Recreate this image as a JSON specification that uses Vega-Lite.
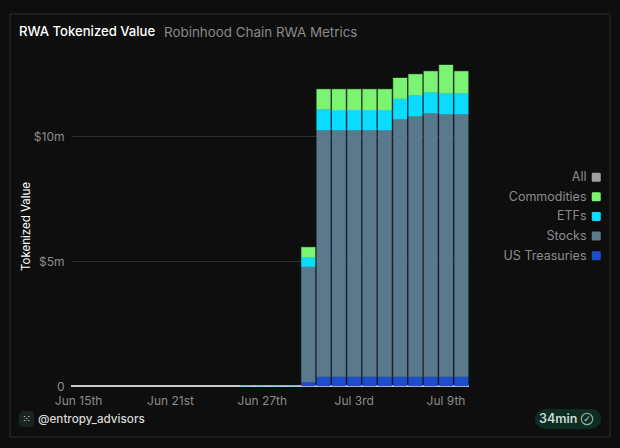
{"$schema":"https://vega.github.io/schema/vega-lite/v6.json","width":398,"height":330,"autosize":"none","padding":{"left":71,"top":56,"right":151,"bottom":62},"background":"#0e0e0e","config":{"font":"Inter","view":{"stroke":null}},"title":{"text":"RWA Tokenized Value","anchor":"start","frame":"group","dx":-52,"offset":-26,"fontSize":13.1,"fontWeight":500,"color":"#ffffff","font":"Inter"},"datasets":{"rows":[{"date":"Jun 26th","category":"ETFs","value":20000},{"date":"Jun 27th","category":"ETFs","value":20000},{"date":"Jun 28th","category":"ETFs","value":20000},{"date":"Jun 29th","category":"ETFs","value":20000},{"date":"Jun 30th","category":"US Treasuries","value":160000},{"date":"Jun 30th","category":"Stocks","value":4610000},{"date":"Jun 30th","category":"ETFs","value":380000},{"date":"Jun 30th","category":"Commodities","value":400000},{"date":"Jul 1st","category":"US Treasuries","value":370000},{"date":"Jul 1st","category":"Stocks","value":9870000},{"date":"Jul 1st","category":"ETFs","value":830000},{"date":"Jul 1st","category":"Commodities","value":800000},{"date":"Jul 2nd","category":"US Treasuries","value":370000},{"date":"Jul 2nd","category":"Stocks","value":9870000},{"date":"Jul 2nd","category":"ETFs","value":800000},{"date":"Jul 2nd","category":"Commodities","value":830000},{"date":"Jul 3rd","category":"US Treasuries","value":370000},{"date":"Jul 3rd","category":"Stocks","value":9870000},{"date":"Jul 3rd","category":"ETFs","value":800000},{"date":"Jul 3rd","category":"Commodities","value":830000},{"date":"Jul 4th","category":"US Treasuries","value":370000},{"date":"Jul 4th","category":"Stocks","value":9870000},{"date":"Jul 4th","category":"ETFs","value":800000},{"date":"Jul 4th","category":"Commodities","value":830000},{"date":"Jul 5th","category":"US Treasuries","value":370000},{"date":"Jul 5th","category":"Stocks","value":9870000},{"date":"Jul 5th","category":"ETFs","value":800000},{"date":"Jul 5th","category":"Commodities","value":830000},{"date":"Jul 6th","category":"US Treasuries","value":370000},{"date":"Jul 6th","category":"Stocks","value":10310000},{"date":"Jul 6th","category":"ETFs","value":810000},{"date":"Jul 6th","category":"Commodities","value":830000},{"date":"Jul 7th","category":"US Treasuries","value":370000},{"date":"Jul 7th","category":"Stocks","value":10430000},{"date":"Jul 7th","category":"ETFs","value":830000},{"date":"Jul 7th","category":"Commodities","value":840000},{"date":"Jul 8th","category":"US Treasuries","value":370000},{"date":"Jul 8th","category":"Stocks","value":10550000},{"date":"Jul 8th","category":"ETFs","value":830000},{"date":"Jul 8th","category":"Commodities","value":840000},{"date":"Jul 9th","category":"US Treasuries","value":370000},{"date":"Jul 9th","category":"Stocks","value":10510000},{"date":"Jul 9th","category":"ETFs","value":830000},{"date":"Jul 9th","category":"Commodities","value":1130000},{"date":"Jul 10th","category":"US Treasuries","value":370000},{"date":"Jul 10th","category":"Stocks","value":10510000},{"date":"Jul 10th","category":"ETFs","value":830000},{"date":"Jul 10th","category":"Commodities","value":880000}]},"layer":[{"data":{"values":[{}]},"mark":{"type":"rect","x":-61,"x2":539,"y":-42,"y2":381,"fill":"transparent","stroke":"#2b2b2b","strokeWidth":1},"encoding":{}},{"data":{"values":[{}]},"mark":{"type":"rule","color":"#ffffff","strokeWidth":1.5},"encoding":{"y":{"datum":0,"type":"quantitative"}}},{"data":{"name":"rows"},"mark":{"type":"bar","strokeWidth":1,"strokeOpacity":0.4,"fillOpacity":1},"encoding":{"x":{"field":"date","type":"ordinal","title":null,"scale":{"domain":["Jun 15th","Jun 16th","Jun 17th","Jun 18th","Jun 19th","Jun 20th","Jun 21st","Jun 22nd","Jun 23rd","Jun 24th","Jun 25th","Jun 26th","Jun 27th","Jun 28th","Jun 29th","Jun 30th","Jul 1st","Jul 2nd","Jul 3rd","Jul 4th","Jul 5th","Jul 6th","Jul 7th","Jul 8th","Jul 9th","Jul 10th"],"paddingInner":0.1,"paddingOuter":0.05},"axis":{"values":["Jun 15th","Jun 21st","Jun 27th","Jul 3rd","Jul 9th"],"domain":false,"ticks":false,"grid":false,"labelAngle":0,"labelColor":"#8c8c8c","labelFontSize":12,"labelPadding":9,"labelFont":"Inter"}},"y":{"field":"value","type":"quantitative","aggregate":"sum","title":"Tokenized Value","scale":{"domain":[0,13200000],"nice":false,"zero":true},"axis":{"values":[0,5000000,10000000],"labelExpr":"datum.value == 0 ? '0' : '$' + datum.value / 1000000 + 'm'","domain":false,"ticks":false,"grid":true,"gridColor":"#2c2c2c","gridWidth":1,"labelColor":"#8c8c8c","labelFontSize":12,"labelPadding":7,"labelFont":"Inter","titleColor":"#ffffff","titleFontSize":11.5,"titleFontWeight":400,"titleFont":"Inter","titleX":-40,"titleY":170}},"color":{"field":"category","type":"nominal","scale":{"domain":["All","Commodities","ETFs","Stocks","US Treasuries"],"range":["#a0a0a0","#7cf373","#0adcff","#587a8c","#1c4ecb"]},"legend":{"title":null,"orient":"none","legendX":519,"legendY":115,"symbolType":"M-0.7,-1 H0.7 Q1,-1 1,-0.7 V0.7 Q1,1 0.7,1 H-0.7 Q-1,1 -1,0.7 V-0.7 Q-1,-1 -0.7,-1 Z","symbolSize":81,"symbolStrokeWidth":0,"symbolOpacity":1,"labelAlign":"right","labelOffset":-16,"labelColor":"#8c8c8c","labelFontSize":12.5,"labelFont":"Inter","rowPadding":6.6}},"stroke":{"field":"category","type":"nominal","legend":null,"scale":{"domain":["All","Commodities","ETFs","Stocks","US Treasuries"],"range":["#a0a0a0","#7cf373","#0adcff","#587a8c","#1c4ecb"]}}}},{"data":{"values":[{"label":"Robinhood Chain RWA Metrics"}]},"mark":{"type":"text","x":93,"y":-23.5,"align":"left","baseline":"middle","fontSize":13.4,"font":"Inter","color":"#8a8a8a"},"encoding":{"text":{"field":"label"}}},{"data":{"values":[{}]},"mark":{"type":"rect","x":-52,"x2":-37,"y":355,"y2":371,"fill":"#1a2222","cornerRadius":4},"encoding":{}},{"data":{"values":[{"label":"⁙"}]},"mark":{"type":"text","x":-44.5,"y":363,"align":"center","baseline":"middle","fontSize":11,"font":"DejaVu Sans","color":"#cfd8d6"},"encoding":{"text":{"field":"label"}}},{"data":{"values":[{"label":"@entropy_advisors"}]},"mark":{"type":"text","x":-33,"y":363,"align":"left","baseline":"middle","fontSize":11.7,"fontWeight":500,"font":"Inter","color":"#d8d8d8"},"encoding":{"text":{"field":"label"}}},{"data":{"values":[{}]},"mark":{"type":"rect","x":464,"x2":530,"y":353,"y2":373,"fill":"#0d2c24","cornerRadius":10},"encoding":{}},{"data":{"values":[{"label":"34min"}]},"mark":{"type":"text","x":468,"y":363,"align":"left","baseline":"middle","fontSize":12.5,"fontWeight":600,"font":"Inter","color":"#c8dcd3"},"encoding":{"text":{"field":"label"}}},{"data":{"values":[{}]},"mark":{"type":"point","shape":"circle","x":516,"y":363,"size":130,"filled":false,"stroke":"#c8dcd3","strokeWidth":1.2},"encoding":{}},{"data":{"values":[{"label":"✓"}]},"mark":{"type":"text","x":516,"y":363,"align":"center","baseline":"middle","fontSize":9,"font":"DejaVu Sans","color":"#c8dcd3"},"encoding":{"text":{"field":"label"}}}],"resolve":{"scale":{"color":"independent"}}}
